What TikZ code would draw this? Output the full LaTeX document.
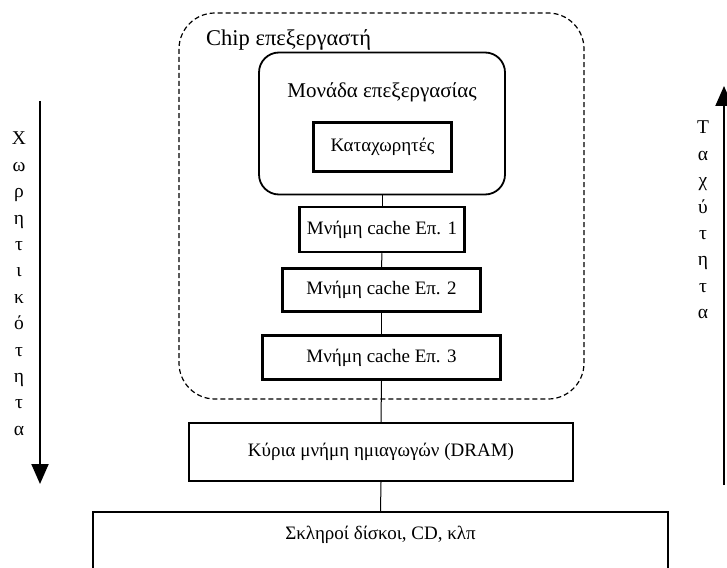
\documentclass[tikz,border=0pt]{standalone}
\usepackage{fontspec}
\setmainfont{Liberation Serif}
\usetikzlibrary{arrows.meta}
\newlength{\du}
\setlength{\du}{1pt}

\begin{document}
\begin{tikzpicture}[x=1\du,y=-1\du,
  lbl/.style={font=\fontsize{19}{22}\selectfont},
  thickbox/.style={draw, line width=2.5\du, inner sep=0pt, lbl},
  link/.style={draw, line width=1\du},
  bigarrow/.style={line width=2\du, -{Triangle[width=17pt,length=20pt]}},
  letters/.style={align=center, inner sep=0pt, font=\fontsize{19.5}{26.4}\selectfont}]
\useasboundingbox (0,0) rectangle (727,567);
% chip
\draw[dash pattern=on 5\du off 3\du, line width=1.2\du, rounded corners=36\du] (179,13) rectangle (584,399);
\node[anchor=west, inner sep=0pt, font=\fontsize{22.5}{26}\selectfont] (chiptitle) at (206,40) {Chip επεξεργαστή};
% processing unit
\node[draw, line width=1.8\du, rounded corners=20\du, minimum width=246\du, minimum height=142\du] (pu) at (382,123.5) {};
\node[font=\fontsize{21}{24}\selectfont] (putitle) at (382,92) {Μονάδα επεξεργασίας};
\node[thickbox, minimum width=138\du, minimum height=49\du] (regs) at (382.5,147) {Καταχωρητές};
% caches
\node[thickbox, minimum width=165\du, minimum height=45\du] (cacheA) at (382,229.5) {Μνήμη cache Επ. 1};
\node[thickbox, minimum width=198\du, minimum height=43\du] (cacheB) at (381.5,290) {Μνήμη cache Επ. 2};
\node[thickbox, minimum width=238\du, minimum height=44\du] (cacheC) at (381.5,357.5) {Μνήμη cache Επ. 3};
% memories
\node[thickbox, line width=2\du, minimum width=384\du, minimum height=58\du] (dram) at (381,452) {Κύρια μνήμη ημιαγωγών (DRAM)};
\node[thickbox, line width=2\du, anchor=north, minimum width=575\du, inner ysep=14\du, text depth=60\du] (disks) at (380.5,511) {Σκληροί δίσκοι, CD, κλπ};
\draw[link] (pu.south) -- (cacheA.north);
\draw[link] (cacheA.south) -- (cacheB.north);
\draw[link] (cacheB.south) -- (cacheC.north);
\draw[link] (cacheC.south) -- (dram.north);
\draw[link] (dram.south) -- (disks.north);
% side arrows
\coordinate (spacetop) at (40,101);
\coordinate (spacebot) at (40,484);
\draw[bigarrow] (spacetop) -- (spacebot);
\node[letters, anchor=north] (spacelbl) at (19,132) {Χ\\ω\\ρ\\η\\τ\\ι\\κ\\ό\\τ\\η\\τ\\α};
\coordinate (speedbot) at (724,485);
\coordinate (speedtop) at (724,86);
\draw[bigarrow] (speedbot) -- (speedtop);
\node[letters, anchor=north] (speedlbl) at (703,121) {Τ\\α\\χ\\ύ\\τ\\η\\τ\\α};
\end{tikzpicture}
\end{document}
